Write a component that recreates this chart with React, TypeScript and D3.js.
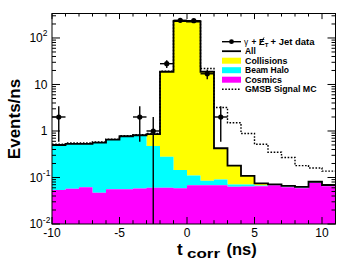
import React from 'react';
import * as d3 from 'd3';

// lower edges of the 1 ns bins
const binLow = [-10, -9, -8, -7, -6, -5, -4, -3, -2, -1, 0, 1, 2, 3, 4, 5, 6, 7, 8, 9, 10];
const binWidth = 1;

// stacked backgrounds, events/ns per bin
const cosmics = [0.054, 0.057, 0.062, 0.047, 0.056, 0.056, 0.058, 0.06, 0.06, 0.059, 0.068, 0.068, 0.068, 0.063, 0.064, 0.065, 0.068, 0.062, 0.059, 0.077, 0.065];
const beamHalo = [0.446, 0.473, 0.468, 0.513, 0.594, 0.714, 0.742, 0.415, 0.22, 0.086, 0.042, 0.017, 0.022, 0.008, 0.007, 0.002, 0.002, 0.002, 0.002, 0.002, 0.002];
const collisions = [0, 0, 0, 0, 0, 0, 0.01, 0.385, 18.5, 231.9, 225.9, 18.7, 0.335, 0.109, 0.037, 0.008, 0.001, 0.002, 0.002, 0.002, 0.002];
const gmsbSignal = [0.52, 0.55, 0.55, 0.58, 0.67, 0.79, 0.83, 0.88, 19.3, 236, 230, 22, 3.2, 1.5, 0.88, 0.52, 0.35, 0.27, 0.18, 0.16, 0.137];

// data points
const dataT = [-9.5, -3.5, -2.5, -1.5, -0.5, 0.5, 1.5, 2.5];
const dataN = [2, 2, 1, 28, 240, 235, 17, 2];
const dataErr = [1.41, 1.41, 1, 5.3, 15.5, 15.3, 4.1, 1.41];

const xMajor = [-10, -5, 0, 5, 10];
const yLabels = [
  { v: 100, base: '10', exp: '2' },
  { v: 10, base: '10', exp: '' },
  { v: 1, base: '1', exp: '' },
  { v: 0.1, base: '10', exp: '-1' },
  { v: 0.01, base: '10', exp: '-2' },
];

const FONT = '"Liberation Sans", Arial, Helvetica, sans-serif';

export default function App() {
  const W = 355, H = 266;
  const x = d3.scaleLinear().domain([-10, 11]).range([52, 335.5]);
  const y = d3.scaleLog().domain([0.01, 336]).range([224, 13.5]).clamp(true);
  const [x0, x1] = x.range();
  const [yb, yt] = y.range();

  const lvl1 = cosmics;
  const lvl2 = cosmics.map((c, i) => c + beamHalo[i]);
  const lvl3 = lvl2.map((c, i) => c + collisions[i]);

  type P = [number, number, number];
  const pts = (lo: number[] | null, hi: number[]): P[] => {
    const p: P[] = binLow.map((b, i) => [b, lo ? lo[i] : 0.01, hi[i]]);
    const n = binLow.length - 1;
    p.push([binLow[n] + binWidth, lo ? lo[n] : 0.01, hi[n]]);
    return p;
  };
  const area = d3.area<P>()
    .x(d => x(d[0]))
    .y0(d => y(Math.max(d[1], 0.01)))
    .y1(d => y(Math.max(d[2], 0.01)))
    .curve(d3.curveStepAfter);
  const line = d3.line<P>()
    .x(d => x(d[0]))
    .y(d => y(d[2]))
    .curve(d3.curveStepAfter);

  const minorX = d3.range(-10, 12);
  const minorY: number[] = [];
  [0.01, 0.1, 1, 10, 100].forEach(dec => {
    for (let k = 2; k <= 9; k++) if (dec * k < 336) minorY.push(dec * k);
  });

  const legendX = 222, legendX2 = 241, textX = 245;
  const rows = [41.7, 51.2, 60.7, 70.2, 79.7, 89.2];

  return (
    <svg width={W} height={H} style={{ position: 'absolute', left: 0, top: 0, background: '#fff' }} fontFamily={FONT}>
      <rect x={0} y={0} width={W} height={H} fill="#fff" />
      {/* stacked histograms */}
      <path d={area(pts(lvl2, lvl3)) || ''} fill="#ffff00" />
      <path d={area(pts(lvl1, lvl2)) || ''} fill="#00ffff" />
      <path d={area(pts(null, lvl1)) || ''} fill="#ff00ff" />
      {/* All */}
      <path d={line(pts(null, lvl3)) || ''} fill="none" stroke="#000" strokeWidth={1.8} />
      {/* GMSB signal MC */}
      <path d={line(pts(null, gmsbSignal)) || ''} fill="none" stroke="#000" strokeWidth={1.4} strokeDasharray="1.6,1.6" />
      {/* data */}
      {dataT.map((t, i) => (
        <g key={t} stroke="#000" strokeWidth={1.4}>
          <line x1={x(t - binWidth / 2)} x2={x(t + binWidth / 2)} y1={y(dataN[i])} y2={y(dataN[i])} />
          <line x1={x(t)} x2={x(t)} y1={y(dataN[i] + dataErr[i])} y2={y(Math.max(dataN[i] - dataErr[i], 0.001))} />
          <circle cx={x(t)} cy={y(dataN[i])} r={2.6} fill="#000" stroke="none" />
        </g>
      ))}
      {/* frame and ticks */}
      <rect x={x0} y={yt} width={x1 - x0} height={yb - yt} fill="none" stroke="#000" strokeWidth={1} />
      <g stroke="#000" strokeWidth={1}>
        {minorX.map(v => {
          const L = xMajor.includes(v) ? 7 : 3.8;
          return (
            <g key={'x' + v}>
              <line x1={x(v)} x2={x(v)} y1={yb} y2={yb - L} />
              <line x1={x(v)} x2={x(v)} y1={yt} y2={yt + L * 0.8} />
            </g>
          );
        })}
        {yLabels.map(l => (
          <g key={'ym' + l.v}>
            <line x1={x0} x2={x0 + 8} y1={y(l.v)} y2={y(l.v)} />
            <line x1={x1} x2={x1 - 8} y1={y(l.v)} y2={y(l.v)} />
          </g>
        ))}
        {minorY.map(v => (
          <g key={'yn' + v}>
            <line x1={x0} x2={x0 + 4} y1={y(v)} y2={y(v)} />
            <line x1={x1} x2={x1 - 4} y1={y(v)} y2={y(v)} />
          </g>
        ))}
      </g>
      {/* tick labels */}
      {xMajor.map(v => (
        <text key={'xl' + v} x={x(v)} y={236.5} fontSize={12} textAnchor="middle">{v}</text>
      ))}
      {yLabels.map(l => l.exp ? (
        <g key={'yl' + l.v}>
          <text x={42.8} y={y(l.v) + 4.3} fontSize={12} textAnchor="end">{l.base}</text>
          <text x={42.8} y={y(l.v) - 1.5} fontSize={8.5}>{l.exp}</text>
        </g>
      ) : (
        <text key={'yl' + l.v} x={47.5} y={y(l.v) + 4.3} fontSize={12} textAnchor="end">{l.base}</text>
      ))}
      {/* axis titles */}
      <text x={177} y={254.5} fontSize={17} fontWeight="bold">t</text>
      <text x={187} y={257.5} fontSize={12} fontWeight="bold" textLength={33} lengthAdjust="spacingAndGlyphs">corr</text>
      <text x={226.5} y={255} fontSize={16.5} fontWeight="bold">(ns)</text>
      <text transform="translate(20,119) rotate(-90)" fontSize={17} fontWeight="bold" textAnchor="middle">Events/ns</text>
      {/* legend */}
      <g>
        <line x1={legendX} x2={legendX2} y1={rows[0]} y2={rows[0]} stroke="#000" strokeWidth={1.4} />
        <circle cx={(legendX + legendX2) / 2} cy={rows[0]} r={2.4} fill="#000" />
        <line x1={legendX} x2={legendX2} y1={rows[1]} y2={rows[1]} stroke="#000" strokeWidth={1.8} />
        <rect x={legendX} y={rows[2] - 3} width={legendX2 - legendX} height={6} fill="#ffff00" />
        <rect x={legendX} y={rows[3] - 3} width={legendX2 - legendX} height={6} fill="#00ffff" />
        <rect x={legendX} y={rows[4] - 3} width={legendX2 - legendX} height={6} fill="#ff00ff" />
        <line x1={legendX} x2={legendX2} y1={rows[5]} y2={rows[5]} stroke="#000" strokeWidth={1.4} strokeDasharray="1.6,1.6" />
        <g fontSize={8.4} fontWeight="bold">
          <text x={textX - 1} y={rows[0] + 3.1} fontWeight="normal">γ</text>
          <text x={textX + 6.5} y={rows[0] + 3.1}>+</text>
          <text x={textX + 14} y={rows[0] + 3.1}>E</text>
          <line x1={textX + 14.5} y1={rows[0] + 3.4} x2={textX + 19} y2={rows[0] - 4.3} stroke="#000" strokeWidth={0.9} />
          <text x={textX + 19.8} y={rows[0] + 4.8} fontSize={6}>T</text>
          <text x={textX + 25.5} y={rows[0] + 3.1} textLength={44} lengthAdjust="spacingAndGlyphs">+ Jet data</text>
          <text x={textX} y={rows[1] + 3.1}>All</text>
          <text x={textX} y={rows[2] + 3.1} textLength={42.5} lengthAdjust="spacingAndGlyphs">Collisions</text>
          <text x={textX} y={rows[3] + 3.1} textLength={44} lengthAdjust="spacingAndGlyphs">Beam Halo</text>
          <text x={textX} y={rows[4] + 3.1} textLength={37} lengthAdjust="spacingAndGlyphs">Cosmics</text>
          <text x={textX} y={rows[5] + 3.1} textLength={71.5} lengthAdjust="spacingAndGlyphs">GMSB Signal MC</text>
        </g>
      </g>
    </svg>
  );
}
